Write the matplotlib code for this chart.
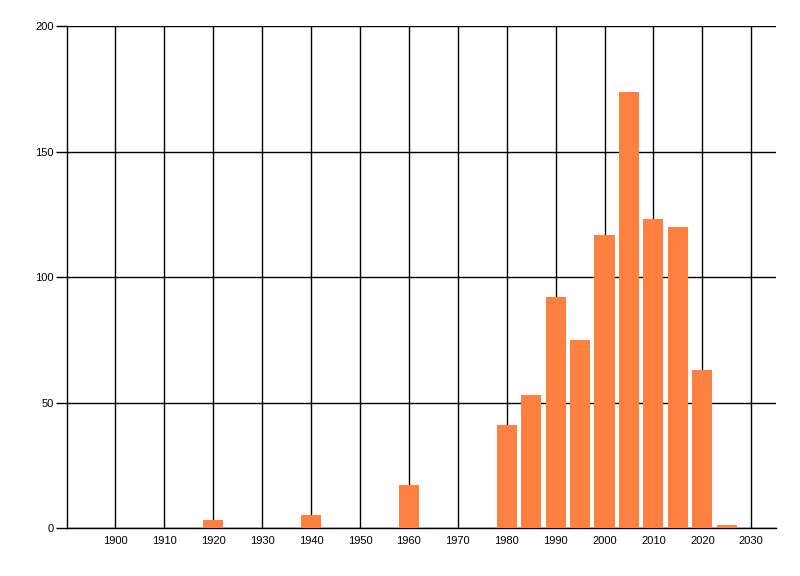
import numpy as np
import matplotlib
matplotlib.use("Agg")
import matplotlib.pyplot as plt

# 5-year bins, bar centered on bin start year
years = [1920, 1940, 1960, 1980, 1985, 1990, 1995, 2000, 2005, 2010, 2015, 2020, 2025]
counts = [3, 5, 17, 41, 53, 92, 75, 117, 174, 123, 120, 63, 1]
x_ticks = list(range(1900, 2031, 10))
y_ticks = [0, 50, 100, 150, 200]

plt.rcParams['font.family'] = ['Liberation Sans', 'DejaVu Sans']

fig = plt.figure(figsize=(8, 5.76), dpi=100)
ax = fig.add_axes([66.5 / 800, 48 / 576, (775.7 - 66.5) / 800, (528 - 26.3) / 576])

ax.bar(years, counts, width=4.1, color='#FF8142', zorder=3)

ax.set_xlim(1890, 2035)
ax.set_ylim(0, 200)
ax.set_xticks(x_ticks)
ax.set_yticks(y_ticks)
ax.grid(True, color='black', linewidth=1, zorder=0)

for side in ['top', 'right']:
    ax.spines[side].set_visible(False)
for side in ['left', 'bottom']:
    ax.spines[side].set_linewidth(1)

ax.tick_params(axis='x', length=0, pad=6, labelsize=8)
ax.tick_params(axis='y', length=8, width=1, pad=1, labelsize=8)

fig.savefig('out.png', dpi=100)
